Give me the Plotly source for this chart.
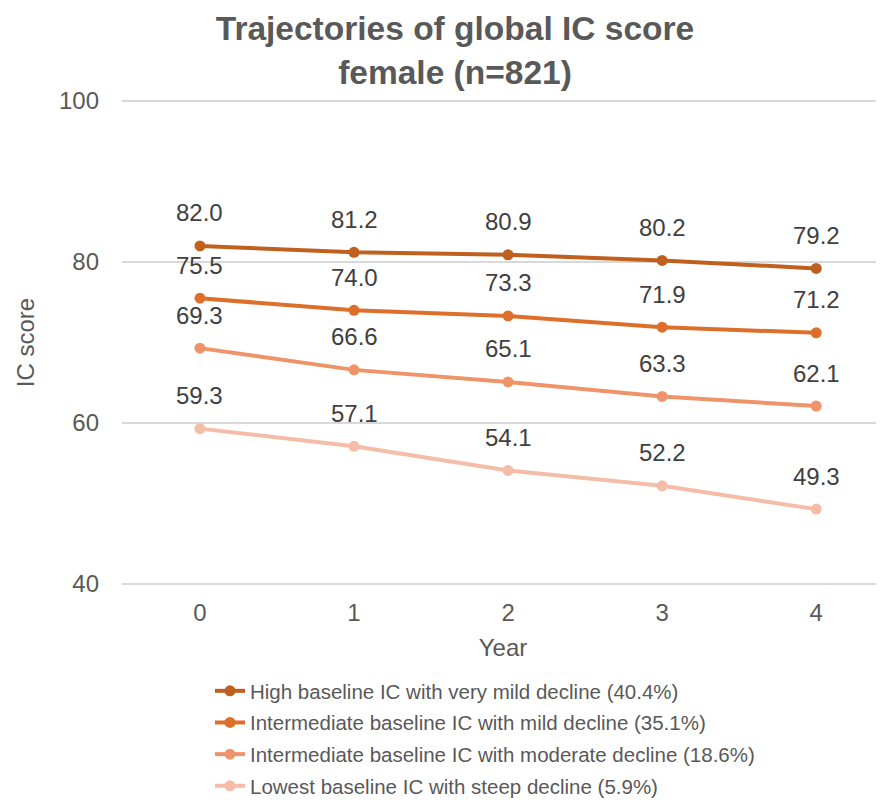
import plotly.graph_objects as go

years = [0, 1, 2, 3, 4]
series_names = [
    "High baseline IC with very mild decline (40.4%)",
    "Intermediate baseline IC with mild decline (35.1%)",
    "Intermediate baseline IC with moderate decline (18.6%)",
    "Lowest baseline IC with steep decline (5.9%)",
]
high_mild = [82.0, 81.2, 80.9, 80.2, 79.2]
inter_mild = [75.5, 74.0, 73.3, 71.9, 71.2]
inter_moderate = [69.3, 66.6, 65.1, 63.3, 62.1]
lowest_steep = [59.3, 57.1, 54.1, 52.2, 49.3]
series_values = [high_mild, inter_mild, inter_moderate, lowest_steep]
colors = ["#C0601F", "#DD6F2A", "#EF9469", "#F5BCA8"]
y_ticks = [40, 60, 80, 100]

FONT = "Liberation Sans, Arial, sans-serif"
W, H = 884, 804
# page body has an 8px offset; coordinates below are figure coordinates
L, R, T, B = 114, 8, 89, 224
PH = H - T - B

fig = go.Figure()
for name, vals, col in zip(series_names, series_values, colors):
    fig.add_trace(go.Scatter(
        x=years, y=vals, name=name, mode="lines+markers",
        line=dict(color=col, width=4),
        marker=dict(color=col, size=11),
        legendgroup=name,
    ))
    for xv, yv in zip(years, vals):
        fig.add_annotation(
            x=xv, y=yv, text=f"{yv:.1f}", showarrow=False, yshift=33,
            font=dict(family=FONT, size=24, color="#404040"),
        )

fig.update_layout(
    width=W, height=H,
    margin=dict(l=L, r=R, t=T, b=B, autoexpand=False),
    paper_bgcolor="white", plot_bgcolor="white",
    title=dict(
        text="<b>Trajectories of global IC score<br>female (n=821)</b>",
        x=447 / W, xanchor="center", y=1 - 32 / H, yanchor="middle",
        font=dict(family=FONT, size=33.5, color="#595959"),
    ),
    font=dict(family=FONT, color="#595959"),
    xaxis=dict(
        range=[-0.506, 4.44], tickvals=years, ticktext=[str(v) for v in years],
        showgrid=False, zeroline=False, showline=False, ticks="",
        tickfont=dict(size=24, color="#595959"),
        ticklabelstandoff=8,
        title=dict(text="Year", font=dict(size=24, color="#595959"), standoff=14),
    ),
    yaxis=dict(
        range=[39.5, 100.5], tickvals=y_ticks,
        showgrid=True, gridcolor="#D9D9D9", gridwidth=1.5,
        zeroline=False, showline=False, ticks="",
        tickfont=dict(size=24, color="#595959"),
        ticklabelstandoff=22,
        title=dict(text="IC score", font=dict(size=24, color="#595959"), standoff=17),
    ),
    showlegend=True,
    legend=dict(
        x=(202 - L) / (W - L - R), xanchor="left",
        y=(PH + T - 663) / PH, yanchor="top",
        font=dict(family=FONT, size=20.5, color="#595959"),
        tracegroupgap=2, bgcolor="rgba(0,0,0,0)",
    ),
)

fig.write_html("out.html")
